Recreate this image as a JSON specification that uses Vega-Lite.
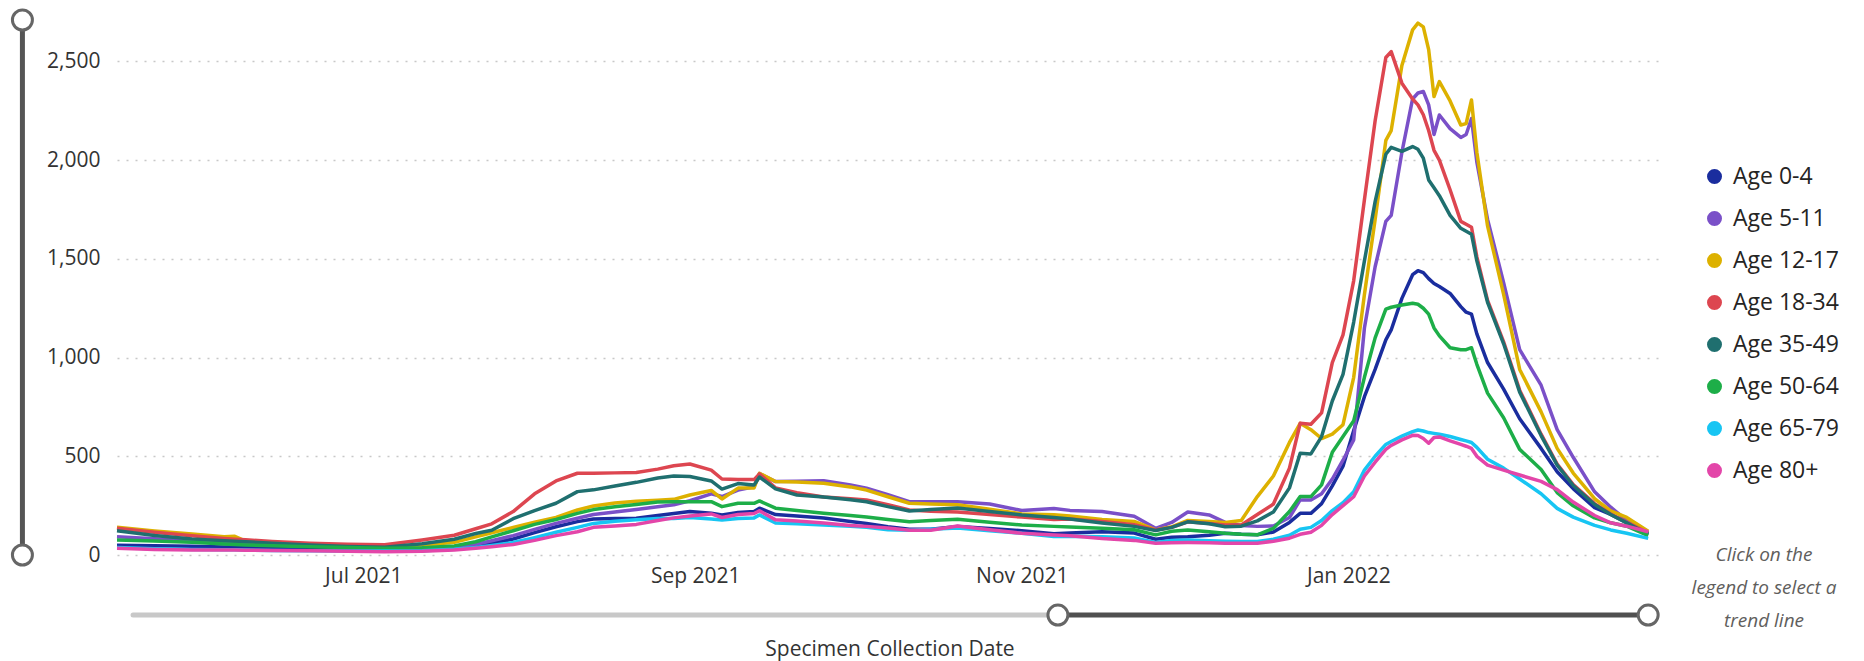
{
"$schema":"https://vega.github.io/schema/vega-lite/v6.json",
"autosize":{"type":"none"},
"width":1545,"height":535,
"padding":{"left":117,"top":20,"right":202,"bottom":106},
"background":"white",
"config":{"view":{"stroke":null},"font":"Segoe UI, Open Sans, sans-serif"},
"layer":[
{
"data":{"values":[{"d":"2021-04-28T08:00:00Z","lo":0,"hi":2710}]},
"mark":{"type":"rule","strokeWidth":5,"color":"#555555"},
"encoding":{
"x":{"field":"d","type":"temporal","scale":{"type":"utc","domain":[{"year":2021,"month":5,"date":16,"utc":true},{"year":2022,"month":2,"date":28,"hours":14,"utc":true}]},
"axis":{"title":"Specimen Collection Date","values":[{"year":2021,"month":7,"date":1,"utc":true},{"year":2021,"month":9,"date":1,"utc":true},{"year":2021,"month":11,"date":1,"utc":true},{"year":2022,"month":1,"date":1,"utc":true}],"labelExpr":"utcFormat(datum.value, '%b %Y')","grid":false,"domain":false,"ticks":false,"labelFlush":false,"labelFontSize":21,"labelColor":"#333333","labelPadding":10,"titleFontSize":21,"titleFontWeight":"normal","titleColor":"#333333","titlePadding":52}},
"y":{"field":"lo","type":"quantitative","scale":{"domain":[0,2710],"nice":false,"zero":true},
"axis":{"title":null,"values":[0,500,1000,1500,2000,2500],"labelExpr":"format(datum.value, ',')","grid":true,"gridDash":[2,7],"gridColor":"#c8c8c8","gridWidth":1.5,"domain":false,"ticks":false,"labelFontSize":21,"labelColor":"#333333","labelPadding":17}},
"y2":{"field":"hi"}}
},
{
"data":{"values":[{"s":"2021-05-19","e":"2021-11-07T18:00:00Z"}]},
"mark":{"type":"rule","strokeWidth":5,"color":"#c8c8c8","strokeCap":"round"},
"encoding":{
"x":{"field":"s","type":"temporal","scale":{"type":"utc","domain":[{"year":2021,"month":5,"date":16,"utc":true},{"year":2022,"month":2,"date":28,"hours":14,"utc":true}]},
"axis":{"title":"Specimen Collection Date","values":[{"year":2021,"month":7,"date":1,"utc":true},{"year":2021,"month":9,"date":1,"utc":true},{"year":2021,"month":11,"date":1,"utc":true},{"year":2022,"month":1,"date":1,"utc":true}],"labelExpr":"utcFormat(datum.value, '%b %Y')","grid":false,"domain":false,"ticks":false,"labelFlush":false,"labelFontSize":21,"labelColor":"#333333","labelPadding":10,"titleFontSize":21,"titleFontWeight":"normal","titleColor":"#333333","titlePadding":52}},
"x2":{"field":"e"},
"y":{"datum":-304,"type":"quantitative","scale":{"domain":[0,2710],"nice":false,"zero":true},
"axis":{"title":null,"values":[0,500,1000,1500,2000,2500],"labelExpr":"format(datum.value, ',')","grid":true,"gridDash":[2,7],"gridColor":"#c8c8c8","gridWidth":1.5,"domain":false,"ticks":false,"labelFontSize":21,"labelColor":"#333333","labelPadding":17}}}
},
{
"data":{"values":[{"s":"2021-11-07T18:00:00Z","e":"2022-02-26"}]},
"mark":{"type":"rule","strokeWidth":5,"color":"#505050"},
"encoding":{
"x":{"field":"s","type":"temporal","scale":{"type":"utc","domain":[{"year":2021,"month":5,"date":16,"utc":true},{"year":2022,"month":2,"date":28,"hours":14,"utc":true}]},
"axis":{"title":"Specimen Collection Date","values":[{"year":2021,"month":7,"date":1,"utc":true},{"year":2021,"month":9,"date":1,"utc":true},{"year":2021,"month":11,"date":1,"utc":true},{"year":2022,"month":1,"date":1,"utc":true}],"labelExpr":"utcFormat(datum.value, '%b %Y')","grid":false,"domain":false,"ticks":false,"labelFlush":false,"labelFontSize":21,"labelColor":"#333333","labelPadding":10,"titleFontSize":21,"titleFontWeight":"normal","titleColor":"#333333","titlePadding":52}},
"x2":{"field":"e"},
"y":{"datum":-304,"type":"quantitative","scale":{"domain":[0,2710],"nice":false,"zero":true},
"axis":{"title":null,"values":[0,500,1000,1500,2000,2500],"labelExpr":"format(datum.value, ',')","grid":true,"gridDash":[2,7],"gridColor":"#c8c8c8","gridWidth":1.5,"domain":false,"ticks":false,"labelFontSize":21,"labelColor":"#333333","labelPadding":17}}}
},
{
"data":{"values":[{"d":"2021-11-07T18:00:00Z"},{"d":"2022-02-26"}]},
"mark":{"type":"point","shape":"circle","size":400,"filled":true,"fill":"white","stroke":"#666666","strokeWidth":3,"opacity":1},
"encoding":{
"x":{"field":"d","type":"temporal","scale":{"type":"utc","domain":[{"year":2021,"month":5,"date":16,"utc":true},{"year":2022,"month":2,"date":28,"hours":14,"utc":true}]},
"axis":{"title":"Specimen Collection Date","values":[{"year":2021,"month":7,"date":1,"utc":true},{"year":2021,"month":9,"date":1,"utc":true},{"year":2021,"month":11,"date":1,"utc":true},{"year":2022,"month":1,"date":1,"utc":true}],"labelExpr":"utcFormat(datum.value, '%b %Y')","grid":false,"domain":false,"ticks":false,"labelFlush":false,"labelFontSize":21,"labelColor":"#333333","labelPadding":10,"titleFontSize":21,"titleFontWeight":"normal","titleColor":"#333333","titlePadding":52}},
"y":{"datum":-304,"type":"quantitative","scale":{"domain":[0,2710],"nice":false,"zero":true},
"axis":{"title":null,"values":[0,500,1000,1500,2000,2500],"labelExpr":"format(datum.value, ',')","grid":true,"gridDash":[2,7],"gridColor":"#c8c8c8","gridWidth":1.5,"domain":false,"ticks":false,"labelFontSize":21,"labelColor":"#333333","labelPadding":17}}}
},
{
"data":{"values":[{"d":"2021-04-28T08:00:00Z","v":0},{"d":"2021-04-28T08:00:00Z","v":2710}]},
"mark":{"type":"point","shape":"circle","size":400,"filled":true,"fill":"white","stroke":"#666666","strokeWidth":3,"opacity":1},
"encoding":{
"x":{"field":"d","type":"temporal","scale":{"type":"utc","domain":[{"year":2021,"month":5,"date":16,"utc":true},{"year":2022,"month":2,"date":28,"hours":14,"utc":true}]},
"axis":{"title":"Specimen Collection Date","values":[{"year":2021,"month":7,"date":1,"utc":true},{"year":2021,"month":9,"date":1,"utc":true},{"year":2021,"month":11,"date":1,"utc":true},{"year":2022,"month":1,"date":1,"utc":true}],"labelExpr":"utcFormat(datum.value, '%b %Y')","grid":false,"domain":false,"ticks":false,"labelFlush":false,"labelFontSize":21,"labelColor":"#333333","labelPadding":10,"titleFontSize":21,"titleFontWeight":"normal","titleColor":"#333333","titlePadding":52}},
"y":{"field":"v","type":"quantitative","scale":{"domain":[0,2710],"nice":false,"zero":true},
"axis":{"title":null,"values":[0,500,1000,1500,2000,2500],"labelExpr":"format(datum.value, ',')","grid":true,"gridDash":[2,7],"gridColor":"#c8c8c8","gridWidth":1.5,"domain":false,"ticks":false,"labelFontSize":21,"labelColor":"#333333","labelPadding":17}}}
},
{
"data":{"values":[
{"g":"Age 0-4","d":"2021-05-16","v":50},{"g":"Age 0-4","d":"2021-05-23","v":47},{"g":"Age 0-4","d":"2021-05-30","v":44},{"g":"Age 0-4","d":"2021-06-05","v":41},{"g":"Age 0-4","d":"2021-06-07","v":40},{"g":"Age 0-4","d":"2021-06-09","v":39},{"g":"Age 0-4","d":"2021-06-14","v":37},{"g":"Age 0-4","d":"2021-06-21","v":34},{"g":"Age 0-4","d":"2021-06-28","v":31},{"g":"Age 0-4","d":"2021-07-05","v":29},
{"g":"Age 0-4","d":"2021-07-12","v":30},{"g":"Age 0-4","d":"2021-07-18","v":37},{"g":"Age 0-4","d":"2021-07-22","v":45},{"g":"Age 0-4","d":"2021-07-25","v":59},{"g":"Age 0-4","d":"2021-07-29","v":81},{"g":"Age 0-4","d":"2021-08-02","v":113},{"g":"Age 0-4","d":"2021-08-06","v":143},{"g":"Age 0-4","d":"2021-08-10","v":169},{"g":"Age 0-4","d":"2021-08-13","v":182},{"g":"Age 0-4","d":"2021-08-17","v":185},
{"g":"Age 0-4","d":"2021-08-21","v":186},{"g":"Age 0-4","d":"2021-08-25","v":200},{"g":"Age 0-4","d":"2021-08-28","v":210},{"g":"Age 0-4","d":"2021-08-31","v":220},{"g":"Age 0-4","d":"2021-09-04","v":212},{"g":"Age 0-4","d":"2021-09-06","v":203},{"g":"Age 0-4","d":"2021-09-09","v":215},{"g":"Age 0-4","d":"2021-09-12","v":220},{"g":"Age 0-4","d":"2021-09-13","v":237},{"g":"Age 0-4","d":"2021-09-16","v":205},
{"g":"Age 0-4","d":"2021-09-20","v":198},{"g":"Age 0-4","d":"2021-09-25","v":187},{"g":"Age 0-4","d":"2021-09-30","v":170},{"g":"Age 0-4","d":"2021-10-03","v":160},{"g":"Age 0-4","d":"2021-10-07","v":143},{"g":"Age 0-4","d":"2021-10-11","v":130},{"g":"Age 0-4","d":"2021-10-15","v":130},{"g":"Age 0-4","d":"2021-10-20","v":145},{"g":"Age 0-4","d":"2021-10-26","v":134},{"g":"Age 0-4","d":"2021-11-01","v":123},
{"g":"Age 0-4","d":"2021-11-07","v":108},{"g":"Age 0-4","d":"2021-11-10","v":112},{"g":"Age 0-4","d":"2021-11-16","v":118},{"g":"Age 0-4","d":"2021-11-22","v":111},{"g":"Age 0-4","d":"2021-11-26","v":80},{"g":"Age 0-4","d":"2021-11-29","v":90},{"g":"Age 0-4","d":"2021-12-02","v":93},{"g":"Age 0-4","d":"2021-12-06","v":100},{"g":"Age 0-4","d":"2021-12-09","v":110},{"g":"Age 0-4","d":"2021-12-12","v":105},
{"g":"Age 0-4","d":"2021-12-15","v":103},{"g":"Age 0-4","d":"2021-12-18","v":116},{"g":"Age 0-4","d":"2021-12-21","v":165},{"g":"Age 0-4","d":"2021-12-23","v":211},{"g":"Age 0-4","d":"2021-12-25","v":211},{"g":"Age 0-4","d":"2021-12-27","v":260},{"g":"Age 0-4","d":"2021-12-29","v":350},{"g":"Age 0-4","d":"2021-12-31","v":450},{"g":"Age 0-4","d":"2022-01-02","v":630},{"g":"Age 0-4","d":"2022-01-04","v":802},
{"g":"Age 0-4","d":"2022-01-06","v":940},{"g":"Age 0-4","d":"2022-01-08","v":1090},{"g":"Age 0-4","d":"2022-01-09","v":1140},{"g":"Age 0-4","d":"2022-01-11","v":1300},{"g":"Age 0-4","d":"2022-01-13","v":1420},{"g":"Age 0-4","d":"2022-01-14","v":1440},{"g":"Age 0-4","d":"2022-01-15","v":1430},{"g":"Age 0-4","d":"2022-01-16","v":1400},{"g":"Age 0-4","d":"2022-01-17","v":1375},{"g":"Age 0-4","d":"2022-01-18","v":1360},
{"g":"Age 0-4","d":"2022-01-20","v":1325},{"g":"Age 0-4","d":"2022-01-22","v":1258},{"g":"Age 0-4","d":"2022-01-23","v":1230},{"g":"Age 0-4","d":"2022-01-24","v":1220},{"g":"Age 0-4","d":"2022-01-25","v":1120},{"g":"Age 0-4","d":"2022-01-27","v":975},{"g":"Age 0-4","d":"2022-01-30","v":840},{"g":"Age 0-4","d":"2022-02-02","v":690},{"g":"Age 0-4","d":"2022-02-06","v":540},{"g":"Age 0-4","d":"2022-02-09","v":422},
{"g":"Age 0-4","d":"2022-02-12","v":336},{"g":"Age 0-4","d":"2022-02-16","v":240},{"g":"Age 0-4","d":"2022-02-19","v":206},{"g":"Age 0-4","d":"2022-02-22","v":164},{"g":"Age 0-4","d":"2022-02-26","v":105},

{"g":"Age 5-11","d":"2021-05-16","v":93},{"g":"Age 5-11","d":"2021-05-23","v":82},{"g":"Age 5-11","d":"2021-05-30","v":71},{"g":"Age 5-11","d":"2021-06-05","v":61},{"g":"Age 5-11","d":"2021-06-07","v":58},{"g":"Age 5-11","d":"2021-06-09","v":56},{"g":"Age 5-11","d":"2021-06-14","v":51},{"g":"Age 5-11","d":"2021-06-21","v":45},{"g":"Age 5-11","d":"2021-06-28","v":39},{"g":"Age 5-11","d":"2021-07-05","v":34},
{"g":"Age 5-11","d":"2021-07-12","v":35},{"g":"Age 5-11","d":"2021-07-18","v":42},{"g":"Age 5-11","d":"2021-07-22","v":54},{"g":"Age 5-11","d":"2021-07-25","v":72},{"g":"Age 5-11","d":"2021-07-29","v":98},{"g":"Age 5-11","d":"2021-08-02","v":130},{"g":"Age 5-11","d":"2021-08-06","v":160},{"g":"Age 5-11","d":"2021-08-10","v":186},{"g":"Age 5-11","d":"2021-08-13","v":205},{"g":"Age 5-11","d":"2021-08-17","v":218},
{"g":"Age 5-11","d":"2021-08-21","v":231},{"g":"Age 5-11","d":"2021-08-25","v":244},{"g":"Age 5-11","d":"2021-08-28","v":254},{"g":"Age 5-11","d":"2021-08-31","v":275},{"g":"Age 5-11","d":"2021-09-04","v":310},{"g":"Age 5-11","d":"2021-09-06","v":296},{"g":"Age 5-11","d":"2021-09-09","v":329},{"g":"Age 5-11","d":"2021-09-12","v":346},{"g":"Age 5-11","d":"2021-09-13","v":412},{"g":"Age 5-11","d":"2021-09-16","v":372},
{"g":"Age 5-11","d":"2021-09-20","v":374},{"g":"Age 5-11","d":"2021-09-25","v":376},{"g":"Age 5-11","d":"2021-09-30","v":355},{"g":"Age 5-11","d":"2021-10-03","v":338},{"g":"Age 5-11","d":"2021-10-07","v":305},{"g":"Age 5-11","d":"2021-10-11","v":270},{"g":"Age 5-11","d":"2021-10-15","v":270},{"g":"Age 5-11","d":"2021-10-20","v":270},{"g":"Age 5-11","d":"2021-10-26","v":258},{"g":"Age 5-11","d":"2021-11-01","v":225},
{"g":"Age 5-11","d":"2021-11-07","v":236},{"g":"Age 5-11","d":"2021-11-10","v":226},{"g":"Age 5-11","d":"2021-11-16","v":220},{"g":"Age 5-11","d":"2021-11-22","v":196},{"g":"Age 5-11","d":"2021-11-26","v":135},{"g":"Age 5-11","d":"2021-11-29","v":165},{"g":"Age 5-11","d":"2021-12-02","v":218},{"g":"Age 5-11","d":"2021-12-06","v":203},{"g":"Age 5-11","d":"2021-12-09","v":165},{"g":"Age 5-11","d":"2021-12-12","v":150},
{"g":"Age 5-11","d":"2021-12-15","v":145},{"g":"Age 5-11","d":"2021-12-18","v":147},{"g":"Age 5-11","d":"2021-12-21","v":190},{"g":"Age 5-11","d":"2021-12-23","v":279},{"g":"Age 5-11","d":"2021-12-25","v":279},{"g":"Age 5-11","d":"2021-12-27","v":310},{"g":"Age 5-11","d":"2021-12-29","v":385},{"g":"Age 5-11","d":"2021-12-31","v":480},{"g":"Age 5-11","d":"2022-01-02","v":583},{"g":"Age 5-11","d":"2022-01-04","v":1150},
{"g":"Age 5-11","d":"2022-01-06","v":1460},{"g":"Age 5-11","d":"2022-01-08","v":1690},{"g":"Age 5-11","d":"2022-01-09","v":1720},{"g":"Age 5-11","d":"2022-01-11","v":2040},{"g":"Age 5-11","d":"2022-01-13","v":2310},{"g":"Age 5-11","d":"2022-01-14","v":2340},{"g":"Age 5-11","d":"2022-01-15","v":2348},{"g":"Age 5-11","d":"2022-01-16","v":2280},{"g":"Age 5-11","d":"2022-01-17","v":2130},{"g":"Age 5-11","d":"2022-01-18","v":2229},
{"g":"Age 5-11","d":"2022-01-20","v":2160},{"g":"Age 5-11","d":"2022-01-22","v":2115},{"g":"Age 5-11","d":"2022-01-23","v":2130},{"g":"Age 5-11","d":"2022-01-24","v":2211},{"g":"Age 5-11","d":"2022-01-25","v":1990},{"g":"Age 5-11","d":"2022-01-27","v":1700},{"g":"Age 5-11","d":"2022-01-30","v":1380},{"g":"Age 5-11","d":"2022-02-02","v":1040},{"g":"Age 5-11","d":"2022-02-06","v":860},{"g":"Age 5-11","d":"2022-02-09","v":635},
{"g":"Age 5-11","d":"2022-02-12","v":495},{"g":"Age 5-11","d":"2022-02-16","v":320},{"g":"Age 5-11","d":"2022-02-19","v":242},{"g":"Age 5-11","d":"2022-02-22","v":175},{"g":"Age 5-11","d":"2022-02-26","v":115},

{"g":"Age 12-17","d":"2021-05-16","v":140},{"g":"Age 12-17","d":"2021-05-23","v":121},{"g":"Age 12-17","d":"2021-05-30","v":106},{"g":"Age 12-17","d":"2021-06-05","v":93},{"g":"Age 12-17","d":"2021-06-07","v":95},{"g":"Age 12-17","d":"2021-06-09","v":70},{"g":"Age 12-17","d":"2021-06-14","v":63},{"g":"Age 12-17","d":"2021-06-21","v":55},{"g":"Age 12-17","d":"2021-06-28","v":49},{"g":"Age 12-17","d":"2021-07-05","v":45},
{"g":"Age 12-17","d":"2021-07-12","v":49},{"g":"Age 12-17","d":"2021-07-18","v":64},{"g":"Age 12-17","d":"2021-07-22","v":92},{"g":"Age 12-17","d":"2021-07-25","v":113},{"g":"Age 12-17","d":"2021-07-29","v":139},{"g":"Age 12-17","d":"2021-08-02","v":166},{"g":"Age 12-17","d":"2021-08-06","v":190},{"g":"Age 12-17","d":"2021-08-10","v":228},{"g":"Age 12-17","d":"2021-08-13","v":248},{"g":"Age 12-17","d":"2021-08-17","v":263},
{"g":"Age 12-17","d":"2021-08-21","v":272},{"g":"Age 12-17","d":"2021-08-25","v":277},{"g":"Age 12-17","d":"2021-08-28","v":282},{"g":"Age 12-17","d":"2021-08-31","v":304},{"g":"Age 12-17","d":"2021-09-04","v":327},{"g":"Age 12-17","d":"2021-09-06","v":284},{"g":"Age 12-17","d":"2021-09-09","v":339},{"g":"Age 12-17","d":"2021-09-12","v":340},{"g":"Age 12-17","d":"2021-09-13","v":414},{"g":"Age 12-17","d":"2021-09-16","v":372},
{"g":"Age 12-17","d":"2021-09-20","v":370},{"g":"Age 12-17","d":"2021-09-25","v":363},{"g":"Age 12-17","d":"2021-09-30","v":345},{"g":"Age 12-17","d":"2021-10-03","v":329},{"g":"Age 12-17","d":"2021-10-07","v":295},{"g":"Age 12-17","d":"2021-10-11","v":262},{"g":"Age 12-17","d":"2021-10-15","v":258},{"g":"Age 12-17","d":"2021-10-20","v":254},{"g":"Age 12-17","d":"2021-10-26","v":232},{"g":"Age 12-17","d":"2021-11-01","v":208},
{"g":"Age 12-17","d":"2021-11-07","v":204},{"g":"Age 12-17","d":"2021-11-10","v":198},{"g":"Age 12-17","d":"2021-11-16","v":180},{"g":"Age 12-17","d":"2021-11-22","v":170},{"g":"Age 12-17","d":"2021-11-26","v":127},{"g":"Age 12-17","d":"2021-11-29","v":143},{"g":"Age 12-17","d":"2021-12-02","v":175},{"g":"Age 12-17","d":"2021-12-06","v":170},{"g":"Age 12-17","d":"2021-12-09","v":165},{"g":"Age 12-17","d":"2021-12-12","v":175},
{"g":"Age 12-17","d":"2021-12-15","v":296},{"g":"Age 12-17","d":"2021-12-18","v":400},{"g":"Age 12-17","d":"2021-12-21","v":570},{"g":"Age 12-17","d":"2021-12-23","v":667},{"g":"Age 12-17","d":"2021-12-25","v":635},{"g":"Age 12-17","d":"2021-12-27","v":590},{"g":"Age 12-17","d":"2021-12-29","v":612},{"g":"Age 12-17","d":"2021-12-31","v":660},{"g":"Age 12-17","d":"2022-01-02","v":900},{"g":"Age 12-17","d":"2022-01-04","v":1320},
{"g":"Age 12-17","d":"2022-01-06","v":1700},{"g":"Age 12-17","d":"2022-01-08","v":2100},{"g":"Age 12-17","d":"2022-01-09","v":2150},{"g":"Age 12-17","d":"2022-01-11","v":2480},{"g":"Age 12-17","d":"2022-01-13","v":2660},{"g":"Age 12-17","d":"2022-01-14","v":2694},{"g":"Age 12-17","d":"2022-01-15","v":2675},{"g":"Age 12-17","d":"2022-01-16","v":2560},{"g":"Age 12-17","d":"2022-01-17","v":2322},{"g":"Age 12-17","d":"2022-01-18","v":2398},
{"g":"Age 12-17","d":"2022-01-20","v":2300},{"g":"Age 12-17","d":"2022-01-22","v":2178},{"g":"Age 12-17","d":"2022-01-23","v":2185},{"g":"Age 12-17","d":"2022-01-24","v":2305},{"g":"Age 12-17","d":"2022-01-25","v":2040},{"g":"Age 12-17","d":"2022-01-27","v":1667},{"g":"Age 12-17","d":"2022-01-30","v":1320},{"g":"Age 12-17","d":"2022-02-02","v":940},{"g":"Age 12-17","d":"2022-02-06","v":725},{"g":"Age 12-17","d":"2022-02-09","v":540},
{"g":"Age 12-17","d":"2022-02-12","v":415},{"g":"Age 12-17","d":"2022-02-16","v":285},{"g":"Age 12-17","d":"2022-02-19","v":223},{"g":"Age 12-17","d":"2022-02-22","v":190},{"g":"Age 12-17","d":"2022-02-26","v":120},

{"g":"Age 18-34","d":"2021-05-16","v":135},{"g":"Age 18-34","d":"2021-05-23","v":115},{"g":"Age 18-34","d":"2021-05-30","v":97},{"g":"Age 18-34","d":"2021-06-05","v":84},{"g":"Age 18-34","d":"2021-06-07","v":80},{"g":"Age 18-34","d":"2021-06-09","v":77},{"g":"Age 18-34","d":"2021-06-14","v":69},{"g":"Age 18-34","d":"2021-06-21","v":60},{"g":"Age 18-34","d":"2021-06-28","v":54},{"g":"Age 18-34","d":"2021-07-05","v":52},
{"g":"Age 18-34","d":"2021-07-12","v":76},{"g":"Age 18-34","d":"2021-07-18","v":100},{"g":"Age 18-34","d":"2021-07-22","v":133},{"g":"Age 18-34","d":"2021-07-25","v":158},{"g":"Age 18-34","d":"2021-07-29","v":220},{"g":"Age 18-34","d":"2021-08-02","v":310},{"g":"Age 18-34","d":"2021-08-06","v":375},{"g":"Age 18-34","d":"2021-08-10","v":414},{"g":"Age 18-34","d":"2021-08-13","v":414},{"g":"Age 18-34","d":"2021-08-17","v":416},
{"g":"Age 18-34","d":"2021-08-21","v":418},{"g":"Age 18-34","d":"2021-08-25","v":435},{"g":"Age 18-34","d":"2021-08-28","v":452},{"g":"Age 18-34","d":"2021-08-31","v":461},{"g":"Age 18-34","d":"2021-09-04","v":430},{"g":"Age 18-34","d":"2021-09-06","v":385},{"g":"Age 18-34","d":"2021-09-09","v":383},{"g":"Age 18-34","d":"2021-09-12","v":382},{"g":"Age 18-34","d":"2021-09-13","v":411},{"g":"Age 18-34","d":"2021-09-16","v":340},
{"g":"Age 18-34","d":"2021-09-20","v":315},{"g":"Age 18-34","d":"2021-09-25","v":294},{"g":"Age 18-34","d":"2021-09-30","v":285},{"g":"Age 18-34","d":"2021-10-03","v":279},{"g":"Age 18-34","d":"2021-10-07","v":255},{"g":"Age 18-34","d":"2021-10-11","v":228},{"g":"Age 18-34","d":"2021-10-15","v":222},{"g":"Age 18-34","d":"2021-10-20","v":218},{"g":"Age 18-34","d":"2021-10-26","v":205},{"g":"Age 18-34","d":"2021-11-01","v":192},
{"g":"Age 18-34","d":"2021-11-07","v":180},{"g":"Age 18-34","d":"2021-11-10","v":182},{"g":"Age 18-34","d":"2021-11-16","v":170},{"g":"Age 18-34","d":"2021-11-22","v":153},{"g":"Age 18-34","d":"2021-11-26","v":127},{"g":"Age 18-34","d":"2021-11-29","v":140},{"g":"Age 18-34","d":"2021-12-02","v":168},{"g":"Age 18-34","d":"2021-12-06","v":160},{"g":"Age 18-34","d":"2021-12-09","v":152},{"g":"Age 18-34","d":"2021-12-12","v":152},
{"g":"Age 18-34","d":"2021-12-15","v":205},{"g":"Age 18-34","d":"2021-12-18","v":258},{"g":"Age 18-34","d":"2021-12-21","v":440},{"g":"Age 18-34","d":"2021-12-23","v":667},{"g":"Age 18-34","d":"2021-12-25","v":662},{"g":"Age 18-34","d":"2021-12-27","v":720},{"g":"Age 18-34","d":"2021-12-29","v":975},{"g":"Age 18-34","d":"2021-12-31","v":1115},{"g":"Age 18-34","d":"2022-01-02","v":1390},{"g":"Age 18-34","d":"2022-01-04","v":1800},
{"g":"Age 18-34","d":"2022-01-06","v":2200},{"g":"Age 18-34","d":"2022-01-08","v":2520},{"g":"Age 18-34","d":"2022-01-09","v":2550},{"g":"Age 18-34","d":"2022-01-11","v":2390},{"g":"Age 18-34","d":"2022-01-13","v":2310},{"g":"Age 18-34","d":"2022-01-14","v":2280},{"g":"Age 18-34","d":"2022-01-15","v":2230},{"g":"Age 18-34","d":"2022-01-16","v":2150},{"g":"Age 18-34","d":"2022-01-17","v":2050},{"g":"Age 18-34","d":"2022-01-18","v":2000},
{"g":"Age 18-34","d":"2022-01-20","v":1850},{"g":"Age 18-34","d":"2022-01-22","v":1690},{"g":"Age 18-34","d":"2022-01-23","v":1675},{"g":"Age 18-34","d":"2022-01-24","v":1660},{"g":"Age 18-34","d":"2022-01-25","v":1510},{"g":"Age 18-34","d":"2022-01-27","v":1290},{"g":"Age 18-34","d":"2022-01-30","v":1080},{"g":"Age 18-34","d":"2022-02-02","v":835},{"g":"Age 18-34","d":"2022-02-06","v":612},{"g":"Age 18-34","d":"2022-02-09","v":460},
{"g":"Age 18-34","d":"2022-02-12","v":357},{"g":"Age 18-34","d":"2022-02-16","v":260},{"g":"Age 18-34","d":"2022-02-19","v":208},{"g":"Age 18-34","d":"2022-02-22","v":166},{"g":"Age 18-34","d":"2022-02-26","v":112},

{"g":"Age 35-49","d":"2021-05-16","v":123},{"g":"Age 35-49","d":"2021-05-23","v":99},{"g":"Age 35-49","d":"2021-05-30","v":81},{"g":"Age 35-49","d":"2021-06-05","v":72},{"g":"Age 35-49","d":"2021-06-07","v":70},{"g":"Age 35-49","d":"2021-06-09","v":67},{"g":"Age 35-49","d":"2021-06-14","v":60},{"g":"Age 35-49","d":"2021-06-21","v":51},{"g":"Age 35-49","d":"2021-06-28","v":43},{"g":"Age 35-49","d":"2021-07-05","v":39},
{"g":"Age 35-49","d":"2021-07-12","v":57},{"g":"Age 35-49","d":"2021-07-18","v":80},{"g":"Age 35-49","d":"2021-07-22","v":109},{"g":"Age 35-49","d":"2021-07-25","v":125},{"g":"Age 35-49","d":"2021-07-29","v":184},{"g":"Age 35-49","d":"2021-08-02","v":225},{"g":"Age 35-49","d":"2021-08-06","v":262},{"g":"Age 35-49","d":"2021-08-10","v":321},{"g":"Age 35-49","d":"2021-08-13","v":330},{"g":"Age 35-49","d":"2021-08-17","v":350},
{"g":"Age 35-49","d":"2021-08-21","v":368},{"g":"Age 35-49","d":"2021-08-25","v":390},{"g":"Age 35-49","d":"2021-08-28","v":400},{"g":"Age 35-49","d":"2021-08-31","v":398},{"g":"Age 35-49","d":"2021-09-04","v":375},{"g":"Age 35-49","d":"2021-09-06","v":334},{"g":"Age 35-49","d":"2021-09-09","v":362},{"g":"Age 35-49","d":"2021-09-12","v":355},{"g":"Age 35-49","d":"2021-09-13","v":395},{"g":"Age 35-49","d":"2021-09-16","v":335},
{"g":"Age 35-49","d":"2021-09-20","v":304},{"g":"Age 35-49","d":"2021-09-25","v":294},{"g":"Age 35-49","d":"2021-09-30","v":280},{"g":"Age 35-49","d":"2021-10-03","v":270},{"g":"Age 35-49","d":"2021-10-07","v":245},{"g":"Age 35-49","d":"2021-10-11","v":223},{"g":"Age 35-49","d":"2021-10-15","v":230},{"g":"Age 35-49","d":"2021-10-20","v":238},{"g":"Age 35-49","d":"2021-10-26","v":220},{"g":"Age 35-49","d":"2021-11-01","v":203},
{"g":"Age 35-49","d":"2021-11-07","v":190},{"g":"Age 35-49","d":"2021-11-10","v":182},{"g":"Age 35-49","d":"2021-11-16","v":162},{"g":"Age 35-49","d":"2021-11-22","v":145},{"g":"Age 35-49","d":"2021-11-26","v":124},{"g":"Age 35-49","d":"2021-11-29","v":140},{"g":"Age 35-49","d":"2021-12-02","v":168},{"g":"Age 35-49","d":"2021-12-06","v":158},{"g":"Age 35-49","d":"2021-12-09","v":143},{"g":"Age 35-49","d":"2021-12-12","v":146},
{"g":"Age 35-49","d":"2021-12-15","v":173},{"g":"Age 35-49","d":"2021-12-18","v":218},{"g":"Age 35-49","d":"2021-12-21","v":340},{"g":"Age 35-49","d":"2021-12-23","v":515},{"g":"Age 35-49","d":"2021-12-25","v":512},{"g":"Age 35-49","d":"2021-12-27","v":600},{"g":"Age 35-49","d":"2021-12-29","v":780},{"g":"Age 35-49","d":"2021-12-31","v":915},{"g":"Age 35-49","d":"2022-01-02","v":1180},{"g":"Age 35-49","d":"2022-01-04","v":1490},
{"g":"Age 35-49","d":"2022-01-06","v":1790},{"g":"Age 35-49","d":"2022-01-08","v":2030},{"g":"Age 35-49","d":"2022-01-09","v":2065},{"g":"Age 35-49","d":"2022-01-11","v":2045},{"g":"Age 35-49","d":"2022-01-13","v":2069},{"g":"Age 35-49","d":"2022-01-14","v":2055},{"g":"Age 35-49","d":"2022-01-15","v":2010},{"g":"Age 35-49","d":"2022-01-16","v":1900},{"g":"Age 35-49","d":"2022-01-17","v":1860},{"g":"Age 35-49","d":"2022-01-18","v":1820},
{"g":"Age 35-49","d":"2022-01-20","v":1720},{"g":"Age 35-49","d":"2022-01-22","v":1655},{"g":"Age 35-49","d":"2022-01-23","v":1640},{"g":"Age 35-49","d":"2022-01-24","v":1625},{"g":"Age 35-49","d":"2022-01-25","v":1490},{"g":"Age 35-49","d":"2022-01-27","v":1280},{"g":"Age 35-49","d":"2022-01-30","v":1070},{"g":"Age 35-49","d":"2022-02-02","v":825},{"g":"Age 35-49","d":"2022-02-06","v":605},{"g":"Age 35-49","d":"2022-02-09","v":455},
{"g":"Age 35-49","d":"2022-02-12","v":352},{"g":"Age 35-49","d":"2022-02-16","v":256},{"g":"Age 35-49","d":"2022-02-19","v":205},{"g":"Age 35-49","d":"2022-02-22","v":163},{"g":"Age 35-49","d":"2022-02-26","v":105},

{"g":"Age 50-64","d":"2021-05-16","v":76},{"g":"Age 50-64","d":"2021-05-23","v":71},{"g":"Age 50-64","d":"2021-05-30","v":64},{"g":"Age 50-64","d":"2021-06-05","v":56},{"g":"Age 50-64","d":"2021-06-07","v":53},{"g":"Age 50-64","d":"2021-06-09","v":51},{"g":"Age 50-64","d":"2021-06-14","v":47},{"g":"Age 50-64","d":"2021-06-21","v":42},{"g":"Age 50-64","d":"2021-06-28","v":38},{"g":"Age 50-64","d":"2021-07-05","v":34},
{"g":"Age 50-64","d":"2021-07-12","v":37},{"g":"Age 50-64","d":"2021-07-18","v":46},{"g":"Age 50-64","d":"2021-07-22","v":67},{"g":"Age 50-64","d":"2021-07-25","v":92},{"g":"Age 50-64","d":"2021-07-29","v":123},{"g":"Age 50-64","d":"2021-08-02","v":155},{"g":"Age 50-64","d":"2021-08-06","v":180},{"g":"Age 50-64","d":"2021-08-10","v":211},{"g":"Age 50-64","d":"2021-08-13","v":230},{"g":"Age 50-64","d":"2021-08-17","v":244},
{"g":"Age 50-64","d":"2021-08-21","v":256},{"g":"Age 50-64","d":"2021-08-25","v":268},{"g":"Age 50-64","d":"2021-08-28","v":270},{"g":"Age 50-64","d":"2021-08-31","v":270},{"g":"Age 50-64","d":"2021-09-04","v":270},{"g":"Age 50-64","d":"2021-09-06","v":245},{"g":"Age 50-64","d":"2021-09-09","v":262},{"g":"Age 50-64","d":"2021-09-12","v":262},{"g":"Age 50-64","d":"2021-09-13","v":274},{"g":"Age 50-64","d":"2021-09-16","v":237},
{"g":"Age 50-64","d":"2021-09-20","v":225},{"g":"Age 50-64","d":"2021-09-25","v":211},{"g":"Age 50-64","d":"2021-09-30","v":200},{"g":"Age 50-64","d":"2021-10-03","v":193},{"g":"Age 50-64","d":"2021-10-07","v":180},{"g":"Age 50-64","d":"2021-10-11","v":169},{"g":"Age 50-64","d":"2021-10-15","v":175},{"g":"Age 50-64","d":"2021-10-20","v":181},{"g":"Age 50-64","d":"2021-10-26","v":166},{"g":"Age 50-64","d":"2021-11-01","v":152},
{"g":"Age 50-64","d":"2021-11-07","v":145},{"g":"Age 50-64","d":"2021-11-10","v":142},{"g":"Age 50-64","d":"2021-11-16","v":135},{"g":"Age 50-64","d":"2021-11-22","v":128},{"g":"Age 50-64","d":"2021-11-26","v":102},{"g":"Age 50-64","d":"2021-11-29","v":120},{"g":"Age 50-64","d":"2021-12-02","v":127},{"g":"Age 50-64","d":"2021-12-06","v":118},{"g":"Age 50-64","d":"2021-12-09","v":110},{"g":"Age 50-64","d":"2021-12-12","v":105},
{"g":"Age 50-64","d":"2021-12-15","v":102},{"g":"Age 50-64","d":"2021-12-18","v":135},{"g":"Age 50-64","d":"2021-12-21","v":220},{"g":"Age 50-64","d":"2021-12-23","v":296},{"g":"Age 50-64","d":"2021-12-25","v":296},{"g":"Age 50-64","d":"2021-12-27","v":355},{"g":"Age 50-64","d":"2021-12-29","v":520},{"g":"Age 50-64","d":"2021-12-31","v":600},{"g":"Age 50-64","d":"2022-01-02","v":680},{"g":"Age 50-64","d":"2022-01-04","v":900},
{"g":"Age 50-64","d":"2022-01-06","v":1100},{"g":"Age 50-64","d":"2022-01-08","v":1245},{"g":"Age 50-64","d":"2022-01-09","v":1255},{"g":"Age 50-64","d":"2022-01-11","v":1266},{"g":"Age 50-64","d":"2022-01-13","v":1275},{"g":"Age 50-64","d":"2022-01-14","v":1270},{"g":"Age 50-64","d":"2022-01-15","v":1250},{"g":"Age 50-64","d":"2022-01-16","v":1220},{"g":"Age 50-64","d":"2022-01-17","v":1150},{"g":"Age 50-64","d":"2022-01-18","v":1110},
{"g":"Age 50-64","d":"2022-01-20","v":1050},{"g":"Age 50-64","d":"2022-01-22","v":1040},{"g":"Age 50-64","d":"2022-01-23","v":1040},{"g":"Age 50-64","d":"2022-01-24","v":1050},{"g":"Age 50-64","d":"2022-01-25","v":966},{"g":"Age 50-64","d":"2022-01-27","v":820},{"g":"Age 50-64","d":"2022-01-30","v":695},{"g":"Age 50-64","d":"2022-02-02","v":535},{"g":"Age 50-64","d":"2022-02-06","v":433},{"g":"Age 50-64","d":"2022-02-09","v":316},
{"g":"Age 50-64","d":"2022-02-12","v":249},{"g":"Age 50-64","d":"2022-02-16","v":188},{"g":"Age 50-64","d":"2022-02-19","v":163},{"g":"Age 50-64","d":"2022-02-22","v":146},{"g":"Age 50-64","d":"2022-02-26","v":98},

{"g":"Age 65-79","d":"2021-05-16","v":38},{"g":"Age 65-79","d":"2021-05-23","v":32},{"g":"Age 65-79","d":"2021-05-30","v":28},{"g":"Age 65-79","d":"2021-06-05","v":26},{"g":"Age 65-79","d":"2021-06-07","v":26},{"g":"Age 65-79","d":"2021-06-09","v":25},{"g":"Age 65-79","d":"2021-06-14","v":23},{"g":"Age 65-79","d":"2021-06-21","v":21},{"g":"Age 65-79","d":"2021-06-28","v":20},{"g":"Age 65-79","d":"2021-07-05","v":20},
{"g":"Age 65-79","d":"2021-07-12","v":22},{"g":"Age 65-79","d":"2021-07-18","v":29},{"g":"Age 65-79","d":"2021-07-22","v":38},{"g":"Age 65-79","d":"2021-07-25","v":48},{"g":"Age 65-79","d":"2021-07-29","v":63},{"g":"Age 65-79","d":"2021-08-02","v":88},{"g":"Age 65-79","d":"2021-08-06","v":115},{"g":"Age 65-79","d":"2021-08-10","v":140},{"g":"Age 65-79","d":"2021-08-13","v":160},{"g":"Age 65-79","d":"2021-08-17","v":171},
{"g":"Age 65-79","d":"2021-08-21","v":179},{"g":"Age 65-79","d":"2021-08-25","v":185},{"g":"Age 65-79","d":"2021-08-28","v":185},{"g":"Age 65-79","d":"2021-08-31","v":190},{"g":"Age 65-79","d":"2021-09-04","v":182},{"g":"Age 65-79","d":"2021-09-06","v":177},{"g":"Age 65-79","d":"2021-09-09","v":185},{"g":"Age 65-79","d":"2021-09-12","v":188},{"g":"Age 65-79","d":"2021-09-13","v":203},{"g":"Age 65-79","d":"2021-09-16","v":162},
{"g":"Age 65-79","d":"2021-09-20","v":158},{"g":"Age 65-79","d":"2021-09-25","v":152},{"g":"Age 65-79","d":"2021-09-30","v":145},{"g":"Age 65-79","d":"2021-10-03","v":140},{"g":"Age 65-79","d":"2021-10-07","v":128},{"g":"Age 65-79","d":"2021-10-11","v":125},{"g":"Age 65-79","d":"2021-10-15","v":130},{"g":"Age 65-79","d":"2021-10-20","v":137},{"g":"Age 65-79","d":"2021-10-26","v":123},{"g":"Age 65-79","d":"2021-11-01","v":110},
{"g":"Age 65-79","d":"2021-11-07","v":94},{"g":"Age 65-79","d":"2021-11-10","v":95},{"g":"Age 65-79","d":"2021-11-16","v":93},{"g":"Age 65-79","d":"2021-11-22","v":86},{"g":"Age 65-79","d":"2021-11-26","v":63},{"g":"Age 65-79","d":"2021-11-29","v":73},{"g":"Age 65-79","d":"2021-12-02","v":76},{"g":"Age 65-79","d":"2021-12-06","v":72},{"g":"Age 65-79","d":"2021-12-09","v":70},{"g":"Age 65-79","d":"2021-12-12","v":68},
{"g":"Age 65-79","d":"2021-12-15","v":68},{"g":"Age 65-79","d":"2021-12-18","v":80},{"g":"Age 65-79","d":"2021-12-21","v":100},{"g":"Age 65-79","d":"2021-12-23","v":130},{"g":"Age 65-79","d":"2021-12-25","v":140},{"g":"Age 65-79","d":"2021-12-27","v":175},{"g":"Age 65-79","d":"2021-12-29","v":225},{"g":"Age 65-79","d":"2021-12-31","v":265},{"g":"Age 65-79","d":"2022-01-02","v":320},{"g":"Age 65-79","d":"2022-01-04","v":430},
{"g":"Age 65-79","d":"2022-01-06","v":500},{"g":"Age 65-79","d":"2022-01-08","v":560},{"g":"Age 65-79","d":"2022-01-09","v":575},{"g":"Age 65-79","d":"2022-01-11","v":602},{"g":"Age 65-79","d":"2022-01-13","v":625},{"g":"Age 65-79","d":"2022-01-14","v":633},{"g":"Age 65-79","d":"2022-01-15","v":628},{"g":"Age 65-79","d":"2022-01-16","v":620},{"g":"Age 65-79","d":"2022-01-17","v":616},{"g":"Age 65-79","d":"2022-01-18","v":612},
{"g":"Age 65-79","d":"2022-01-20","v":600},{"g":"Age 65-79","d":"2022-01-22","v":585},{"g":"Age 65-79","d":"2022-01-23","v":578},{"g":"Age 65-79","d":"2022-01-24","v":570},{"g":"Age 65-79","d":"2022-01-25","v":545},{"g":"Age 65-79","d":"2022-01-27","v":485},{"g":"Age 65-79","d":"2022-01-30","v":440},{"g":"Age 65-79","d":"2022-02-02","v":385},{"g":"Age 65-79","d":"2022-02-06","v":310},{"g":"Age 65-79","d":"2022-02-09","v":236},
{"g":"Age 65-79","d":"2022-02-12","v":192},{"g":"Age 65-79","d":"2022-02-16","v":150},{"g":"Age 65-79","d":"2022-02-19","v":127},{"g":"Age 65-79","d":"2022-02-22","v":110},{"g":"Age 65-79","d":"2022-02-26","v":84},

{"g":"Age 80+","d":"2021-05-16","v":34},{"g":"Age 80+","d":"2021-05-23","v":28},{"g":"Age 80+","d":"2021-05-30","v":25},{"g":"Age 80+","d":"2021-06-05","v":25},{"g":"Age 80+","d":"2021-06-07","v":25},{"g":"Age 80+","d":"2021-06-09","v":24},{"g":"Age 80+","d":"2021-06-14","v":23},{"g":"Age 80+","d":"2021-06-21","v":21},{"g":"Age 80+","d":"2021-06-28","v":19},{"g":"Age 80+","d":"2021-07-05","v":17},
{"g":"Age 80+","d":"2021-07-12","v":19},{"g":"Age 80+","d":"2021-07-18","v":25},{"g":"Age 80+","d":"2021-07-22","v":34},{"g":"Age 80+","d":"2021-07-25","v":42},{"g":"Age 80+","d":"2021-07-29","v":53},{"g":"Age 80+","d":"2021-08-02","v":74},{"g":"Age 80+","d":"2021-08-06","v":98},{"g":"Age 80+","d":"2021-08-10","v":118},{"g":"Age 80+","d":"2021-08-13","v":140},{"g":"Age 80+","d":"2021-08-17","v":147},
{"g":"Age 80+","d":"2021-08-21","v":155},{"g":"Age 80+","d":"2021-08-25","v":175},{"g":"Age 80+","d":"2021-08-28","v":188},{"g":"Age 80+","d":"2021-08-31","v":198},{"g":"Age 80+","d":"2021-09-04","v":208},{"g":"Age 80+","d":"2021-09-06","v":190},{"g":"Age 80+","d":"2021-09-09","v":205},{"g":"Age 80+","d":"2021-09-12","v":210},{"g":"Age 80+","d":"2021-09-13","v":224},{"g":"Age 80+","d":"2021-09-16","v":178},
{"g":"Age 80+","d":"2021-09-20","v":172},{"g":"Age 80+","d":"2021-09-25","v":162},{"g":"Age 80+","d":"2021-09-30","v":150},{"g":"Age 80+","d":"2021-10-03","v":145},{"g":"Age 80+","d":"2021-10-07","v":137},{"g":"Age 80+","d":"2021-10-11","v":125},{"g":"Age 80+","d":"2021-10-15","v":125},{"g":"Age 80+","d":"2021-10-20","v":147},{"g":"Age 80+","d":"2021-10-26","v":128},{"g":"Age 80+","d":"2021-11-01","v":110},
{"g":"Age 80+","d":"2021-11-07","v":101},{"g":"Age 80+","d":"2021-11-10","v":97},{"g":"Age 80+","d":"2021-11-16","v":83},{"g":"Age 80+","d":"2021-11-22","v":74},{"g":"Age 80+","d":"2021-11-26","v":59},{"g":"Age 80+","d":"2021-11-29","v":62},{"g":"Age 80+","d":"2021-12-02","v":63},{"g":"Age 80+","d":"2021-12-06","v":62},{"g":"Age 80+","d":"2021-12-09","v":60},{"g":"Age 80+","d":"2021-12-12","v":59},
{"g":"Age 80+","d":"2021-12-15","v":59},{"g":"Age 80+","d":"2021-12-18","v":70},{"g":"Age 80+","d":"2021-12-21","v":85},{"g":"Age 80+","d":"2021-12-23","v":105},{"g":"Age 80+","d":"2021-12-25","v":115},{"g":"Age 80+","d":"2021-12-27","v":150},{"g":"Age 80+","d":"2021-12-29","v":205},{"g":"Age 80+","d":"2021-12-31","v":250},{"g":"Age 80+","d":"2022-01-02","v":295},{"g":"Age 80+","d":"2022-01-04","v":400},
{"g":"Age 80+","d":"2022-01-06","v":470},{"g":"Age 80+","d":"2022-01-08","v":535},{"g":"Age 80+","d":"2022-01-09","v":555},{"g":"Age 80+","d":"2022-01-11","v":583},{"g":"Age 80+","d":"2022-01-13","v":606},{"g":"Age 80+","d":"2022-01-14","v":605},{"g":"Age 80+","d":"2022-01-15","v":590},{"g":"Age 80+","d":"2022-01-16","v":566},{"g":"Age 80+","d":"2022-01-17","v":595},{"g":"Age 80+","d":"2022-01-18","v":598},
{"g":"Age 80+","d":"2022-01-20","v":578},{"g":"Age 80+","d":"2022-01-22","v":560},{"g":"Age 80+","d":"2022-01-23","v":551},{"g":"Age 80+","d":"2022-01-24","v":540},{"g":"Age 80+","d":"2022-01-25","v":500},{"g":"Age 80+","d":"2022-01-27","v":455},{"g":"Age 80+","d":"2022-01-30","v":430},{"g":"Age 80+","d":"2022-02-02","v":405},{"g":"Age 80+","d":"2022-02-06","v":373},{"g":"Age 80+","d":"2022-02-09","v":331},
{"g":"Age 80+","d":"2022-02-12","v":268},{"g":"Age 80+","d":"2022-02-16","v":200},{"g":"Age 80+","d":"2022-02-19","v":163},{"g":"Age 80+","d":"2022-02-22","v":146},{"g":"Age 80+","d":"2022-02-26","v":118}
]},
"mark":{"type":"line","strokeWidth":3.5,"strokeJoin":"round"},
"encoding":{
"x":{"field":"d","type":"temporal","scale":{"type":"utc","domain":[{"year":2021,"month":5,"date":16,"utc":true},{"year":2022,"month":2,"date":28,"hours":14,"utc":true}]},
"axis":{"title":"Specimen Collection Date","values":[{"year":2021,"month":7,"date":1,"utc":true},{"year":2021,"month":9,"date":1,"utc":true},{"year":2021,"month":11,"date":1,"utc":true},{"year":2022,"month":1,"date":1,"utc":true}],"labelExpr":"utcFormat(datum.value, '%b %Y')","grid":false,"domain":false,"ticks":false,"labelFlush":false,"labelFontSize":21,"labelColor":"#333333","labelPadding":10,"titleFontSize":21,"titleFontWeight":"normal","titleColor":"#333333","titlePadding":52}},
"y":{"field":"v","type":"quantitative","scale":{"domain":[0,2710],"nice":false,"zero":true},
"axis":{"title":null,"values":[0,500,1000,1500,2000,2500],"labelExpr":"format(datum.value, ',')","grid":true,"gridDash":[2,7],"gridColor":"#c8c8c8","gridWidth":1.5,"domain":false,"ticks":false,"labelFontSize":21,"labelColor":"#333333","labelPadding":17}},
"color":{"field":"g","type":"nominal",
"scale":{"domain":["Age 0-4","Age 5-11","Age 12-17","Age 18-34","Age 35-49","Age 50-64","Age 65-79","Age 80+"],
"range":["#1A2D9E","#7A50C8","#DDB100","#DD4650","#1F6F6F","#1DAE48","#17C5F3","#E346A9"]},
"legend":{"title":["Click on the","legend to select a","trend line"],"orient":"none","legendX":1575,"legendY":145,
"titleOrient":"bottom","titleAnchor":"middle","titleAlign":"center","titleFontStyle":"italic","titleFontWeight":"normal",
"titleFontSize":19,"titleColor":"#605E5C","titleLineHeight":33,"titlePadding":57,"titleLimit":300,
"labelFontSize":23,"labelColor":"#252423","labelOffset":7,"labelLimit":300,
"symbolType":"circle","symbolSize":56,"symbolStrokeWidth":7.5,"rowPadding":3,"padding":0,
"encode":{"title":{"update":{"dx":{"value":-7}}}}}}
}
}
]
}
